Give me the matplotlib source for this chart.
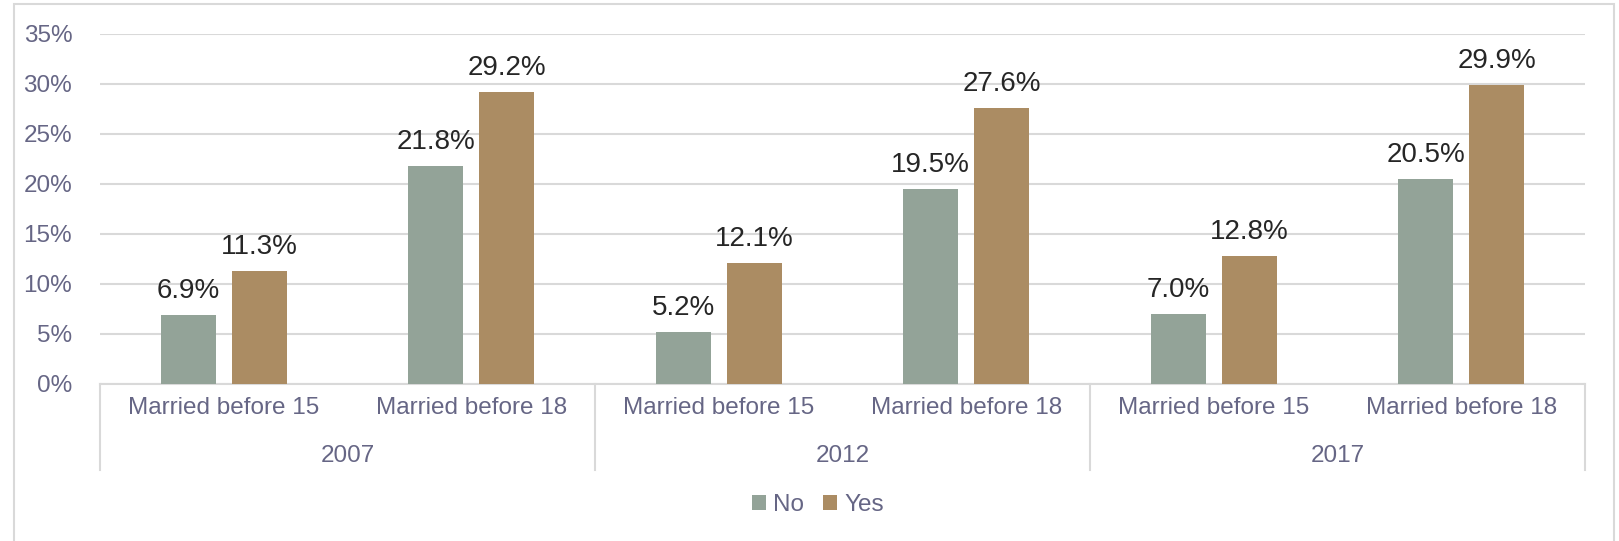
import matplotlib
matplotlib.use('Agg')
import matplotlib.pyplot as plt
from matplotlib.patches import Rectangle
from matplotlib.lines import Line2D
from matplotlib.ticker import FuncFormatter, MultipleLocator

# data
years = ['2007', '2012', '2017']
categories = ['Married before 15', 'Married before 18'] * 3
no_vals = [6.9, 21.8, 5.2, 19.5, 7.0, 20.5]
yes_vals = [11.3, 29.2, 12.1, 27.6, 12.8, 29.9]

C_NO = '#93A398'
C_YES = '#AB8C63'
C_AXIS_TXT = '#666685'
C_LABEL = '#262626'
C_GRID = '#D9D9D9'

plt.rcParams['font.family'] = ['Liberation Sans', 'DejaVu Sans']

W, H = 1619, 541
fig = plt.figure(figsize=(W / 100, H / 100), dpi=100)
fig.patch.set_facecolor('white')

# outer frame
fig.patches.append(Rectangle((14 / W, -0.05), 1600 / W, 1 - 4 / H + 0.05,
                             transform=fig.transFigure, fill=False,
                             edgecolor=C_GRID, linewidth=1.5))

ax = fig.add_axes([100 / W, 1 - 384 / H, 1485 / W, 350 / H])

x = list(range(len(categories)))
bw = 0.222
off = 0.1434
bars_no = ax.bar([i - off for i in x], no_vals, bw, color=C_NO, label='No', zorder=3)
bars_yes = ax.bar([i + off for i in x], yes_vals, bw, color=C_YES, label='Yes', zorder=3)

for bars, vals in ((bars_no, no_vals), (bars_yes, yes_vals)):
    for b, v in zip(bars, vals):
        ax.annotate(f'{v:.1f}%', (b.get_x() + b.get_width() / 2, v),
                    xytext=(0, 12), textcoords='offset points',
                    ha='center', va='baseline', fontsize=20, color=C_LABEL)

ax.set_xlim(-0.5, len(categories) - 0.5)
ax.set_ylim(0, 35)
ax.yaxis.set_major_locator(MultipleLocator(5))
ax.yaxis.set_major_formatter(FuncFormatter(lambda v, p: f'{v:.0f}%'))
ax.grid(axis='y', color=C_GRID, linewidth=1.5, zorder=0)
ax.set_axisbelow(True)

for s in ('top', 'right', 'left'):
    ax.spines[s].set_visible(False)
ax.spines['bottom'].set_color(C_GRID)
ax.spines['bottom'].set_linewidth(1.5)

ax.tick_params(axis='y', length=0, pad=20, labelsize=17.5, labelcolor=C_AXIS_TXT)
ax.set_xticks(x)
ax.set_xticklabels(categories)
ax.tick_params(axis='x', length=0, pad=9, labelsize=17.5, labelcolor=C_AXIS_TXT)

# year group labels and separators
trans = ax.get_xaxis_transform()
sep_bottom = -86 / 350
for k in range(len(years) + 1):
    xs = 2 * k - 0.5
    ax.add_line(Line2D([xs, xs], [0, sep_bottom], transform=trans,
                       color=C_GRID, linewidth=1.5, clip_on=False))
for k, yr in enumerate(years):
    ax.text(2 * k + 0.5, -72 / 350, yr, transform=trans, ha='center', va='center',
            fontsize=17.5, color=C_AXIS_TXT)

leg = fig.legend(handles=[bars_no, bars_yes], labels=['No', 'Yes'],
                 loc='center', bbox_to_anchor=(818 / W, 1 - 505 / H), ncol=2,
                 frameon=False, fontsize=17.5, handlelength=0.55, handleheight=0.55,
                 handletextpad=0.3, columnspacing=0.8, labelcolor=C_AXIS_TXT)

fig.savefig('out.png', dpi=100, facecolor='white')
